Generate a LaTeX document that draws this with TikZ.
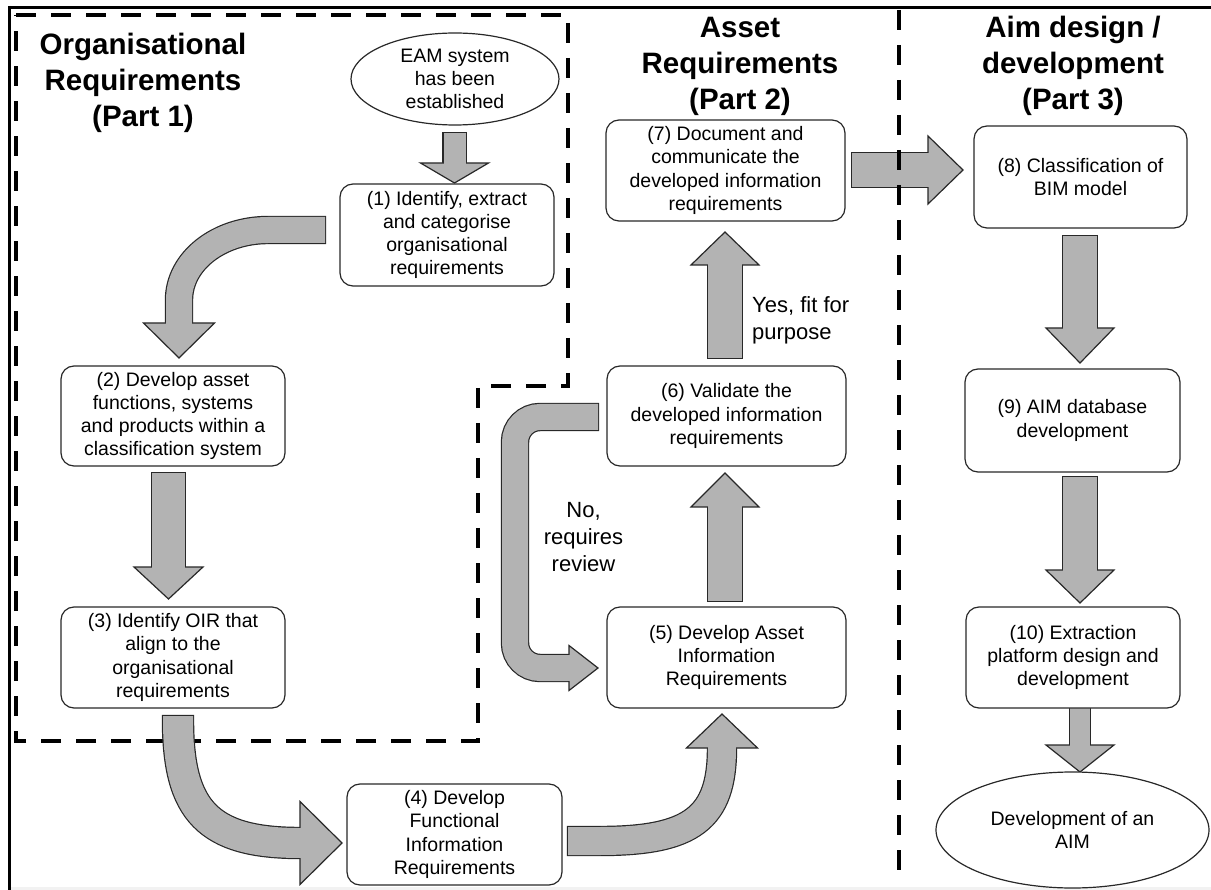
\documentclass[tikz,border=0pt]{standalone}
\usepackage{fontspec}
\setmainfont{Liberation Sans}
\usetikzlibrary{shapes.geometric,calc}

\definecolor{arrowfill}{RGB}{179,179,179}
\definecolor{edge}{RGB}{40,40,40}
\definecolor{stripgray}{RGB}{242,242,242}

% Shaft of a block arrow: dark outline stroke, then the grey body on top.
% #1 extra options (e.g. rounded corners), #2 shaft width, #3 path
\newcommand{\fatshaft}[3][]{%
  \draw[#1, line width=#2pt+2.4pt, edge, line cap=butt, shorten <=-1.2pt] #3;
  \draw[#1, line width=#2pt, arrowfill, line cap=butt] #3;}

% Triangular heads at a base coordinate.
% #1 base coordinate, #2 half width, #3 length, #4 shaft width
\newcommand{\headdown}[4]{%
  \filldraw[arrowhead] ($(#1)+(-#2,0)$) -- ($(#1)+(0,#3)$) -- ($(#1)+(#2,0)$) -- cycle;
  \fill[arrowfill] ($(#1)+(-#4/2,-2)$) rectangle ($(#1)+(#4/2,1.5)$);}
\newcommand{\headup}[4]{%
  \filldraw[arrowhead] ($(#1)+(-#2,0)$) -- ($(#1)+(0,-#3)$) -- ($(#1)+(#2,0)$) -- cycle;
  \fill[arrowfill] ($(#1)+(-#4/2,2)$) rectangle ($(#1)+(#4/2,-1.5)$);}
\newcommand{\headright}[4]{%
  \filldraw[arrowhead] ($(#1)+(0,-#2)$) -- ($(#1)+(#3,0)$) -- ($(#1)+(0,#2)$) -- cycle;
  \fill[arrowfill] ($(#1)+(-2,-#4/2)$) rectangle ($(#1)+(1.5,#4/2)$);}

\begin{document}
\begin{tikzpicture}[x=1pt,y=-1pt,
  arrowhead/.style={fill=arrowfill, draw=edge, line width=1.2pt, line join=miter},
  stepbox/.style={draw=edge, line width=1.2pt, rounded corners=13pt, fill=white,
    align=center, inner sep=0pt, font=\fontsize{19.5}{23.3}\selectfont},
  oval/.style={ellipse, draw=edge, line width=1.2pt, fill=white, align=center,
    inner sep=0pt, font=\fontsize{19.5}{23.3}\selectfont},
  parttitle/.style={align=center, inner sep=0pt, font=\bfseries\fontsize{29.5}{36}\selectfont},
  remark/.style={inner sep=0pt, font=\fontsize{22}{27}\selectfont},
  region/.style={dash pattern=on 20pt off 15pt, line width=4pt, black},
]
\useasboundingbox (0,0) rectangle (1211,890);

% page frame
\fill[stripgray] (11,887) rectangle (1211,890);
\draw[line width=3pt] (8,7.5) -- (1211,7.5);
\draw[line width=3pt] (9.5,6) -- (9.5,890);

% Part 1 region outline
\draw[region] (16,15) -- (568,15) -- (568,386) -- (478,386) -- (478,741) -- (16,741) -- cycle;

% arrow end points
\coordinate (a0) at (454.5,133);  \coordinate (a1) at (454.5,163);
\coordinate (b0) at (325,230);    \coordinate (b1) at (179,323);
\coordinate (c0) at (168.5,473);  \coordinate (c1) at (168.5,567);
\coordinate (d0) at (178,716);    \coordinate (d1) at (300,843);
\coordinate (e0) at (568,841);    \coordinate (e1) at (722,748);
\coordinate (f0) at (725,601);    \coordinate (f1) at (725,507);
\coordinate (g0) at (725,358);    \coordinate (g1) at (725,265);
\coordinate (h0) at (852,170);    \coordinate (h1) at (928,170);
\coordinate (i0) at (1080,236);   \coordinate (i1) at (1080,328);
\coordinate (j0) at (1080,477);   \coordinate (j1) at (1080,570);
\coordinate (k0) at (1080,708);   \coordinate (k1) at (1080,745);
\coordinate (l0) at (598,417);    \coordinate (l1) at (569,668);

% block arrows
\fatshaft{22}{(a0) -- (a1)}
\headdown{a1}{34}{20}{22}

\fatshaft{26}{(b0) -- (268,230) .. controls (219,230) and (179,261) .. (179,300) -- (b1)}
\headdown{b1}{35.5}{35}{26}

\fatshaft{33}{(c0) -- (c1)}
\headdown{c1}{34.5}{32}{33}

\fatshaft{30}{(d0) -- (178,720) .. controls (178,811) and (208,843) .. (d1)}
\headright{d1}{41.5}{42}{30}

\fatshaft{28}{(e0) -- (600,841) .. controls (692,841) and (722,818) .. (e1)}
\headup{e1}{35.5}{34}{28}

\fatshaft{34}{(f0) -- (f1)}
\headup{f1}{34}{34}{34}

\fatshaft{34}{(g0) -- (g1)}
\headup{g1}{34}{33}{34}

\fatshaft{34}{(h0) -- (h1)}
\headright{h1}{34}{35}{34}

\fatshaft{34}{(i0) -- (i1)}
\headdown{i1}{34}{35}{34}

\fatshaft{34}{(j0) -- (j1)}
\headdown{j1}{34}{33}{34}

\fatshaft{20}{(k0) -- (k1)}
\headdown{k1}{34}{27}{20}

\fatshaft[rounded corners=25pt]{26}{(l0) -- (515,417) -- (515,668) -- (l1)}
\headright{l1}{22.5}{29}{26}

% divider between Part 2 and Part 3
\draw[region] (899,10) -- (899,878);

% titles
\node[parttitle] (t1) at (143,83) {Organisational\\Requirements\\(Part 1)};
\node[parttitle] (t2) at (740,66) {Asset\\Requirements\\(Part 2)};
\node[parttitle] (t3) at (1073,66) {Aim design /\\development\\(Part 3)};

% start and end
\node[oval, minimum width=208pt, minimum height=92pt] (eam) at (455,79) {EAM system\\has been\\established};
\node[oval, minimum width=273pt, minimum height=116pt] (aim) at (1072.5,830) {Development of an\\AIM};

% process steps
\node[stepbox, minimum width=214pt, minimum height=102pt] (s1) at (447,235) {(1) Identify, extract\\and categorise\\organisational\\requirements};
\node[stepbox, minimum width=224pt, minimum height=100pt] (s2) at (173,416) {(2) Develop asset\\functions, systems\\and products within a\\classification system};
\node[stepbox, minimum width=224pt, minimum height=101pt] (s3) at (173,657.5) {(3) Identify OIR that\\align to the\\organisational\\requirements};
\node[stepbox, minimum width=215pt, minimum height=101pt] (s4) at (454.5,834.5) {(4) Develop\\Functional\\Information\\Requirements};
\node[stepbox, minimum width=239pt, minimum height=101pt] (s5) at (726.5,657.5) {(5) Develop Asset\\Information\\Requirements};
\node[stepbox, minimum width=239pt, minimum height=100pt] (s6) at (726.5,416) {(6) Validate the\\developed information\\requirements};
\node[stepbox, minimum width=239pt, minimum height=101pt] (s7) at (725.5,170.5) {(7) Document and\\communicate the\\developed information\\requirements};
\node[stepbox, minimum width=213pt, minimum height=102pt] (s8) at (1080.5,177) {(8) Classification of\\BIM model};
\node[stepbox, minimum width=215pt, minimum height=103pt] (s9) at (1072.5,420.5) {(9) AIM database\\development};
\node[stepbox, minimum width=214pt, minimum height=101pt] (s10) at (1073,657.5) {(10) Extraction\\platform design and\\development};

% decision labels
\node[remark, align=left, anchor=west] (yes) at (752,320) {Yes, fit for\\purpose};
\node[remark, align=center] (no) at (583.5,537.5) {No,\\requires\\review};
\end{tikzpicture}
\end{document}
